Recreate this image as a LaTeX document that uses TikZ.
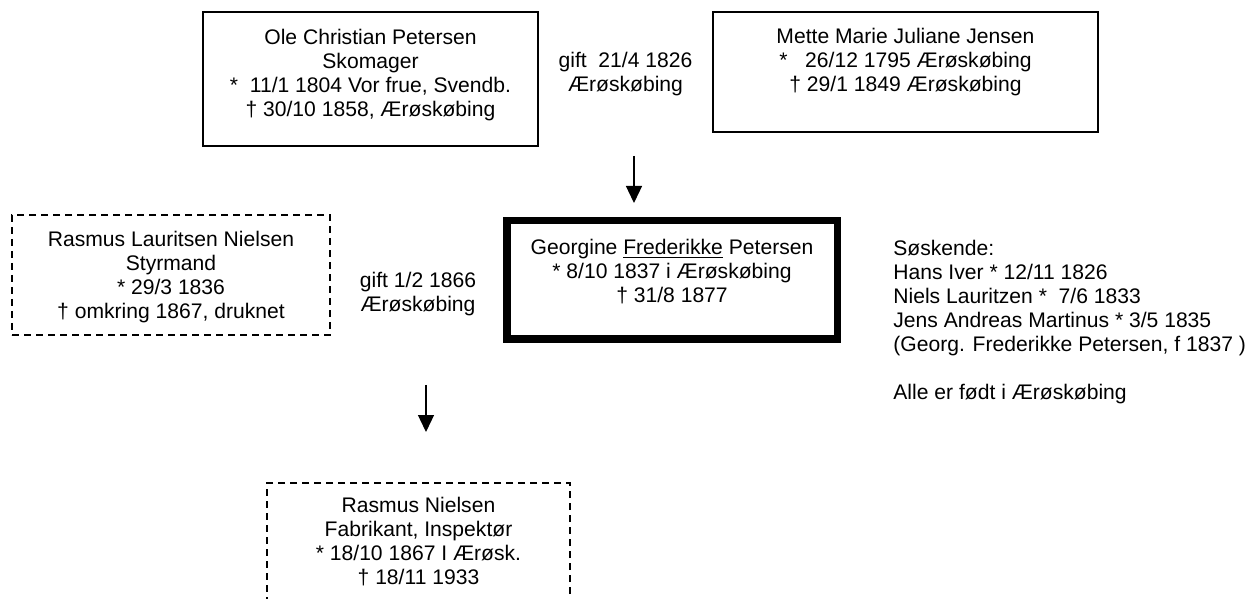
\documentclass[tikz,border=0pt]{standalone}
\usepackage{fontspec}
\setmainfont{Liberation Sans}
\usetikzlibrary{arrows.meta}

\tikzset{
  personbox/.style={draw, line width=1pt, inner sep=0pt},
  unsurebox/.style={personbox, dash pattern=on 3.5pt off 2.5pt},
  mainbox/.style={personbox, line width=3.75pt},
  persontext/.style={anchor=north, align=center, inner sep=0pt, font=\fontsize{10.55}{12}\selectfont},
  descent/.style={line width=0.65pt, -{Triangle[length=8.5pt,width=8pt]}}
}

\begin{document}
\begin{tikzpicture}[x=0.5pt, y=-0.5pt]
  \useasboundingbox[fill=white] (0,0) rectangle (1250,599);

  % parents
  \node[personbox, minimum width=167.5pt, minimum height=67pt] (ole) at (370.5,79) {};
  \node[persontext] (oletext) at (370.5,29) {Ole Christian Petersen\\ Skomager\\ *\ \ 11/1 1804 Vor frue, Svendb.\\ † 30/10 1858, Ærøskøbing};

  \node[personbox, minimum width=192.5pt, minimum height=60pt] (mette) at (905.5,72) {};
  \node[persontext] (mettetext) at (905.5,28) {Mette Marie Juliane Jensen\\ *\ \ \ 26/12 1795 Ærøskøbing\\ † 29/1 1849 Ærøskøbing};

  \node[persontext] (gift1) at (625.5,52) {gift\ \ 21/4 1826\\ Ærøskøbing};

  % Georgine and husband
  \node[mainbox, minimum width=165.25pt, minimum height=59.25pt] (georgine) at (672,280) {};
  \node[persontext] (georginetext) at (672,239) {Georgine \underline{Frederikke} Petersen\\ * 8/10 1837 i Ærøskøbing\\ † 31/8 1877};

  \node[unsurebox, minimum width=159pt, minimum height=60pt] (rasmusl) at (171,275) {};
  \node[persontext] (rasmusltext) at (171,231) {Rasmus Lauritsen Nielsen\\ Styrmand\\ * 29/3 1836\\ † omkring 1867, druknet};

  \node[persontext] (gift2) at (418,272) {gift 1/2 1866\\ Ærøskøbing};

  \node[persontext, anchor=north west, align=left] (soskende) at (893,240) {Søskende:\\ Hans Iver * 12/11 1826\\ Niels Lauritzen *\ \ 7/6 1833\\ Jens Andreas Martinus * 3/5 1835\\ (Georg. Frederikke Petersen, f 1837 )\\[12pt] Alle er født i Ærøskøbing};

  % son
  \node[unsurebox, minimum width=151.5pt, minimum height=60pt] (rasmusn) at (418.5,543) {};
  \node[persontext] (rasmusntext) at (418.5,497) {Rasmus Nielsen\\ Fabrikant, Inspektør\\ * 18/10 1867 I Ærøsk.\\ † 18/11 1933};

  \coordinate (desc1) at (634,156);
  \coordinate (desc1end) at (634,203);
  \coordinate (desc2) at (426,385);
  \coordinate (desc2end) at (426,432);
  \draw[descent] (desc1) -- (desc1end);
  \draw[descent] (desc2) -- (desc2end);
\end{tikzpicture}
\end{document}
